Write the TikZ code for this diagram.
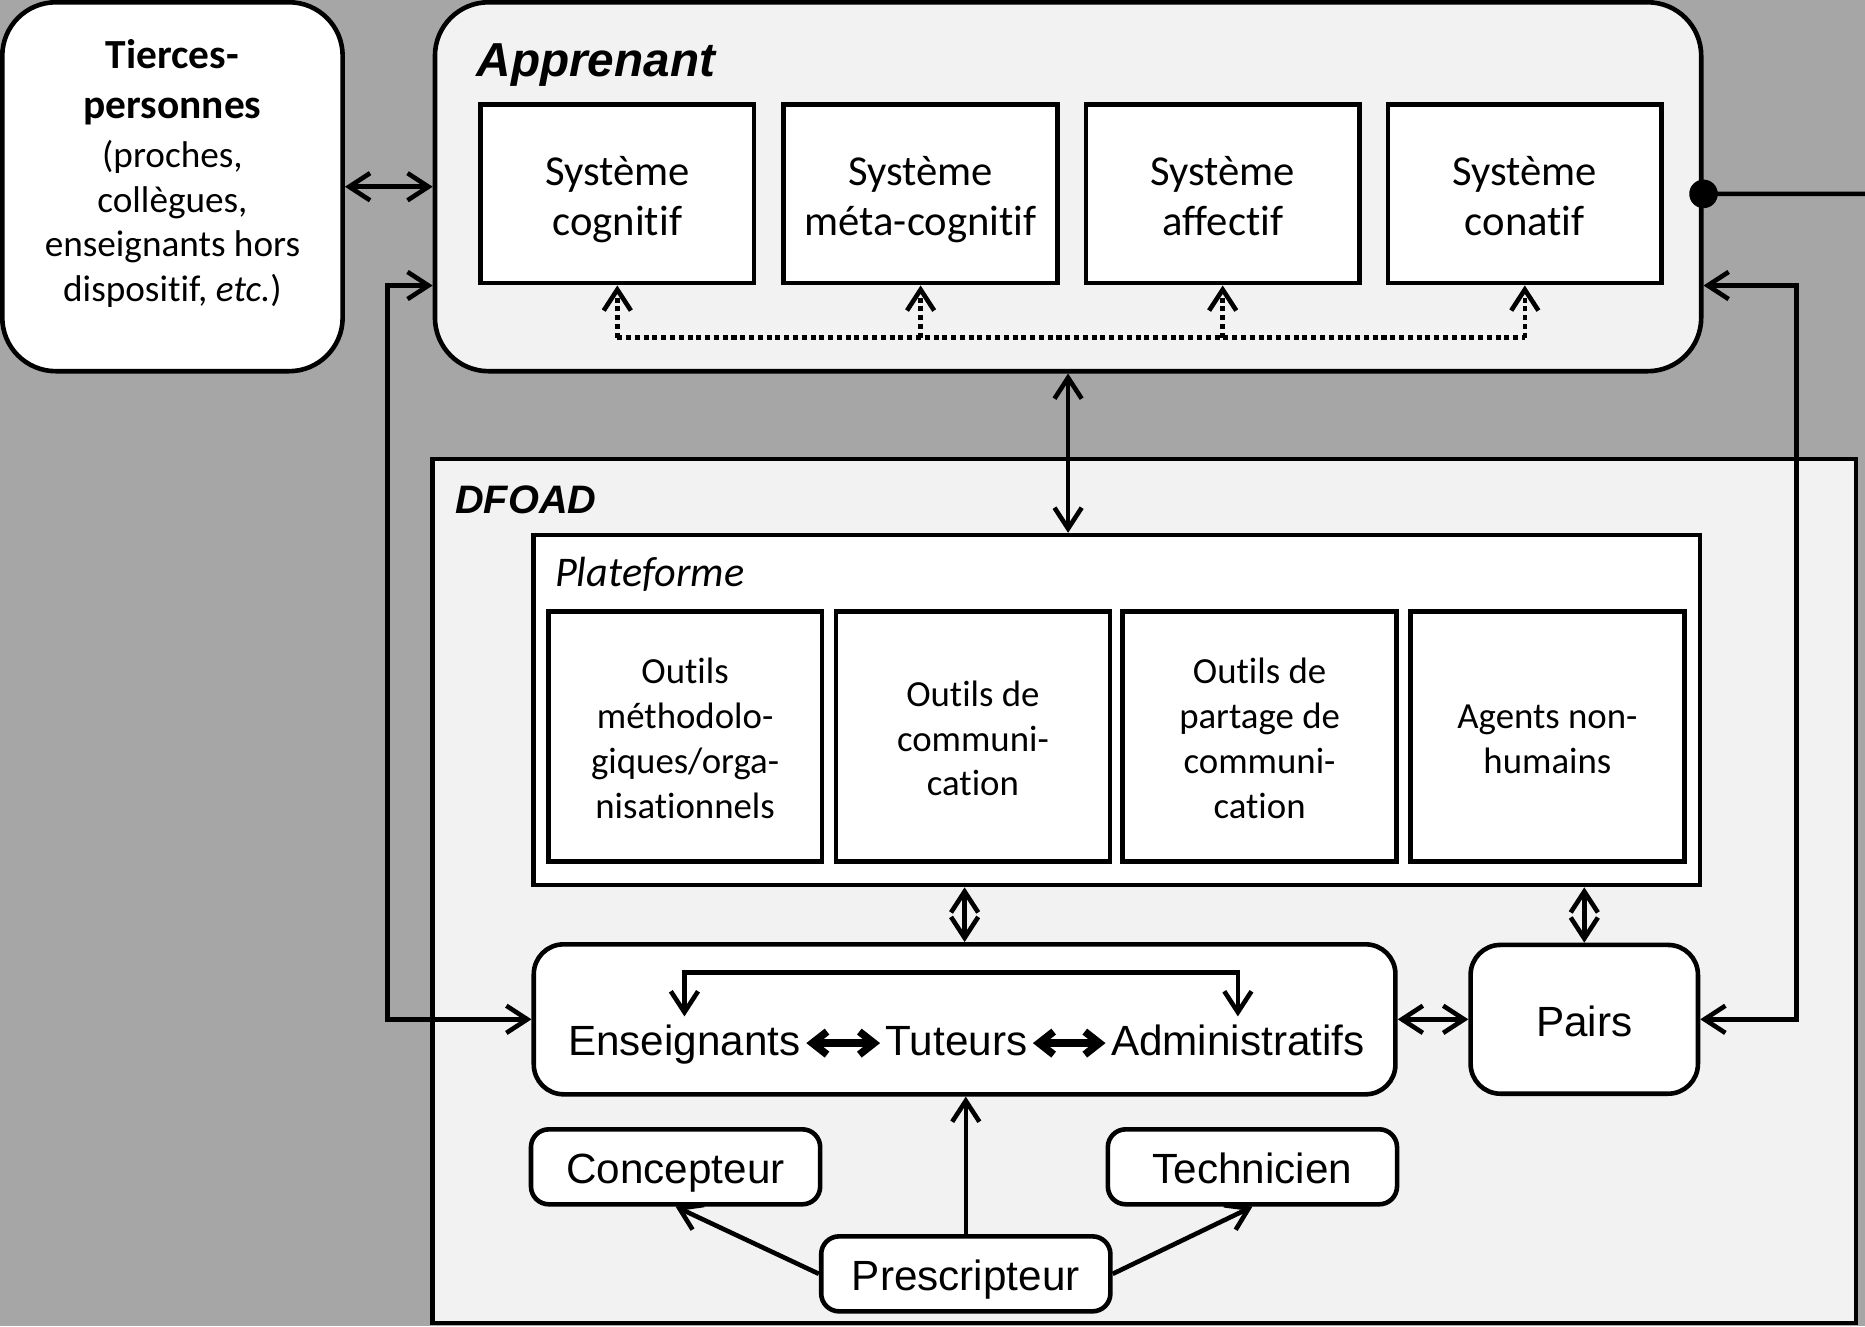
\documentclass[tikz,border=0pt]{standalone}
\usepackage{fontspec}
\setmainfont{Carlito}[Ligatures=NoCommon]
\newfontfamily\arialfont{Liberation Sans}
\usepackage{tikz}
\usetikzlibrary{arrows.meta,positioning,calc}
\definecolor{fondgris}{RGB}{166,166,166}
\definecolor{clair}{RGB}{242,242,242}
\newcommand{\hautsys}{\rule{0pt}{11.6pt}}
\newcommand{\hautoutil}{\rule{0pt}{10.3pt}}

\begin{document}
\begin{tikzpicture}[x=0.01cm, y=-0.01cm, >={Straight Barb[length=5pt,width=6.5pt]},
    every node/.style={inner sep=0pt},
    cadre/.style={draw, line width=1.1pt, fill=white},
    systeme/.style={cadre, minimum width=2.30cm, minimum height=1.50cm, align=center, font=\fontsize{10.2}{11.9}\selectfont,
        execute at end node=\strut},
    outil/.style={cadre, minimum width=2.30cm, minimum height=2.10cm, align=center, font=\fontsize{8.8}{10.7}\selectfont,
        execute at end node=\strut},
    role/.style={cadre, rounded corners=0.15cm, minimum width=2.43cm, minimum height=0.63cm, font=\arialfont\fontsize{10.1}{12}\selectfont,
        text height=0.8em, text depth=0pt},
    mot/.style={font=\arialfont\fontsize{10.1}{12}\selectfont},
    titre/.style={anchor=base west, font=\arialfont\bfseries\itshape},
    fleche/.style={line width=1.1pt},
    pointille/.style={line width=1.1pt, dash pattern=on 1.2pt off 0.9pt},
    motfleche/.style={line width=1.8pt, >={Straight Barb[length=3.5pt,width=5.5pt]}, shorten <=0.04cm, shorten >=0.04cm}]
    \useasboundingbox (0,0) rectangle (1568,1115);
    \fill[fondgris] (0,0) rectangle (1568,1115);

    % apprenant et tierces-personnes
    \node[cadre, rounded corners=0.45cm, minimum width=2.86cm, minimum height=3.10cm] (tiers) at (145,157) {};
    \node[align=center, font=\fontsize{8.9}{10.7}\selectfont] (tierstxt) at (145,146)
        {\textbf{\fontsize{9.9}{10.7}\selectfont Tierces-}\\[0.045cm]\textbf{\fontsize{9.9}{10.7}\selectfont personnes}\\[0.03cm](proches,\\collègues,\\enseignants hors\\dispositif, \textit{etc.})};
    \node[cadre, fill=clair, rounded corners=0.45cm, minimum width=10.64cm, minimum height=3.10cm] (appr) at (898,157) {};
    \node[titre, font=\arialfont\bfseries\itshape\fontsize{11.4}{13}\selectfont] (apprtitre) at (400,64) {Apprenant};
    \node[systeme] (cog)    at (519,163)  {\hautsys Système\\cognitif};
    \node[systeme] (meta)   at (774,163)  {\hautsys Système\\méta-cognitif};
    \node[systeme] (affect) at (1028,163) {\hautsys Système\\affectif};
    \node[systeme] (conat)  at (1282,163) {\hautsys Système\\conatif};

    % dispositif
    \node[draw, line width=1.1pt, fill=clair, minimum width=11.96cm, minimum height=7.26cm] (dfoad) at (962,749) {};
    \node[titre, font=\arialfont\bfseries\itshape\fontsize{9.5}{11}\selectfont] (dfoadtitre) at (382,432) {DFOAD};
    \node[cadre, minimum width=9.80cm, minimum height=2.94cm] (plat) at (939,597) {};
    \node[anchor=base west, font=\itshape\fontsize{10.1}{12}\selectfont] (plattitre) at (466,493) {Plateforme};
    \node[outil] (methodo) at (576,619)  {\hautoutil Outils\\méthodolo-\\giques/orga-\\nisationnels};
    \node[outil] (commu)   at (818,619)  {\hautoutil Outils de\\communi-\\cation};
    \node[outil] (partage) at (1059,619) {\hautoutil Outils de\\partage de\\communi-\\cation};
    \node[outil] (agents)  at (1301,619) {\hautoutil Agents non-\\humains};

    \node[cadre, rounded corners=0.25cm, minimum width=7.24cm, minimum height=1.26cm] (equipe) at (811,857) {};
    \node[mot, anchor=base west] (ens) at (477,887) {Enseignants};
    \node[mot, base right=0.70cm of ens] (tut) {Tuteurs};
    \node[mot, base right=0.69cm of tut] (adm) {Administratifs};
    \node[role, minimum width=1.91cm, minimum height=1.25cm, rounded corners=0.25cm] (pairs) at (1332,857) {Pairs};
    \node[role] (concep) at (568,981)  {Concepteur};
    \node[role] (techn)  at (1053,981) {Technicien};
    \node[role] (presc)  at (812,1071) {Prescripteur};
    \coordinate (sortie) at (1575,163);

    % liens
    \foreach \s in {cog,meta,affect,conat}
        \draw[pointille,->] ($(\s.south)+(0,44)$) -- (\s.south);
    \draw[pointille] ($(cog.south)+(0,44)$) -- ($(conat.south)+(0,44)$);
    \draw[fleche,<->] (tiers) -- (appr);
    \draw[fleche] ([yshift=-0.06cm]appr.east) -- (sortie);
    \fill ([yshift=-0.06cm]appr.east) circle (0.12cm);
    \draw[fleche,<->] ([yshift=-0.83cm]appr.west) -- ++(-38,0) |- (equipe.west);
    \draw[fleche,<->] ([yshift=-0.83cm]appr.east) -- ++(78,0) |- (pairs.east);
    \draw[fleche,<->] (appr.south) -- (appr.south |- plat.north);
    \draw[fleche,<->] (equipe.north) -- (equipe.north |- plat.south);
    \draw[fleche,<->] (pairs.north) -- (pairs.north |- plat.south);
    \draw[fleche,<->] (equipe) -- (pairs);
    \draw[motfleche,<->] ([yshift=0.10cm]ens.base east) -- ([yshift=0.10cm]tut.base west);
    \draw[motfleche,<->] ([yshift=0.10cm]tut.base east) -- ([yshift=0.10cm]adm.base west);
    \draw[fleche,<->] ([yshift=0.06cm]ens.north) -- ++(0,-37) -| ([yshift=0.06cm]adm.north);
    \draw[fleche,->] (presc.north) -- (presc.north |- equipe.south);
    \draw[fleche,->] (presc.west) -- (concep.south);
    \draw[fleche,->] (presc.east) -- (techn.south);
\end{tikzpicture}
\end{document}
